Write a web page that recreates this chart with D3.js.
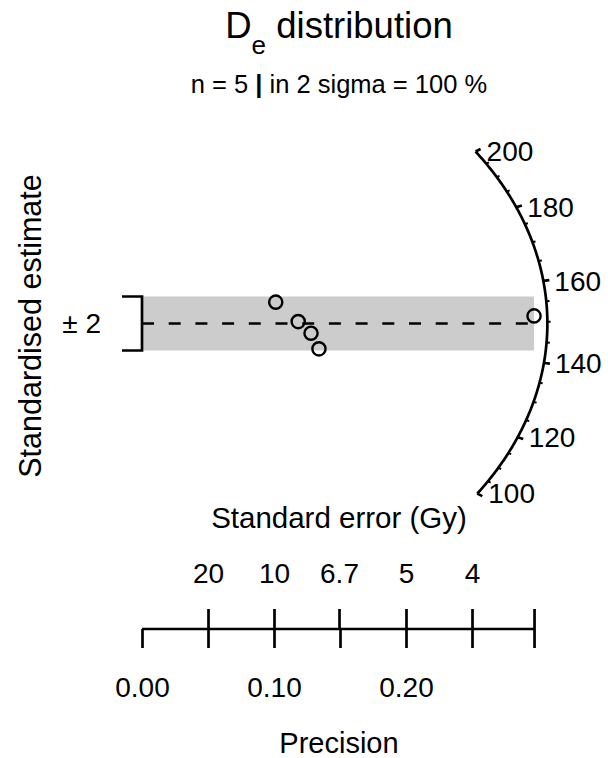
<!DOCTYPE html>
<html><head><meta charset="utf-8">
<script src="https://cdn.jsdelivr.net/npm/d3@7"></script>
<style>body{margin:0;background:#fff;} text{font-family:"Liberation Sans",Arial,sans-serif;fill:#000;}</style>
</head><body>
<svg id="c" width="608" height="758"></svg>
<script>
// ---- data ----
const De = [165.2, 150.8, 144.0, 135.6, 151.5];      // equivalent dose (Gy)
const seDe = [9.87, 8.45, 7.81, 7.46, 3.367];       // standard error (Gy)
const zMajorTicks = [100, 120, 140, 160, 180, 200];
const zMinorTicks = [105,110,115,125,130,135,145,150,155,165,170,175,185,190,195];
const precisionTicks = [0, 0.05, 0.10, 0.15, 0.20, 0.25];
const precisionLabels = ["0.00", "", "0.10", "", "0.20", ""];
const seTickValues = [20, 10, 6.7, 5, 4];
const seTickLabels = ["20", "10", "6.7", "5", "4"];

const svg = d3.select("#c");
const lw = 2.7;

// derived
const prec = seDe.map(s => 1 / s);
const wsum = d3.sum(prec, p => p * p);
const z0 = d3.sum(De, (d, i) => d * prec[i] * prec[i]) / wsum;
const std = De.map((d, i) => (d - z0) / seDe[i]);
const maxP = d3.max(prec);

const x = d3.scaleLinear().domain([0, 0.3]).range([142, 538]);
const y = d3.scaleLinear().domain([-13, 13]).range([499, 148]);

// ±2 band
svg.append("rect").attr("x", x(0)).attr("y", y(2))
  .attr("width", x(maxP) - x(0)).attr("height", y(-2) - y(2)).attr("fill", "#cccccc");

// central line
svg.append("line").attr("x1", x(0)).attr("x2", x(maxP)).attr("y1", y(0)).attr("y2", y(0))
  .attr("stroke", "#000").attr("stroke-width", lw).attr("stroke-dasharray", "12,14.7");

// bracket
svg.append("path").attr("d", `M${x(0)-20},${y(2)}H${x(0)}V${y(-2)}H${x(0)-20}`)
  .attr("fill", "none").attr("stroke", "#000").attr("stroke-width", lw);
svg.append("text").attr("x", 101).attr("y", y(0)).attr("dy", "0.35em").attr("text-anchor", "end")
  .attr("font-size", 28).text("± 2");

// arc
const r = maxP * 1.034, f = 0.0137;
const ex = z => r / Math.sqrt(1 + f * f * (z - z0) * (z - z0));
const ey = z => (z - z0) * ex(z);
const arcZ = d3.range(zMajorTicks[0], zMajorTicks[zMajorTicks.length - 1] + 0.01, 0.5);
svg.append("path").attr("d", d3.line().x(z => x(ex(z))).y(z => y(ey(z)))(arcZ))
  .attr("fill", "none").attr("stroke", "#000").attr("stroke-width", lw);
zMajorTicks.forEach(z => {
  svg.append("line").attr("x1", x(ex(z))).attr("y1", y(ey(z)))
    .attr("x2", x(ex(z) * 1.015)).attr("y2", y(ey(z) * 1.015))
    .attr("stroke", "#000").attr("stroke-width", lw);
  svg.append("text").attr("x", x(ex(z)) + 11).attr("y", y(ey(z))).attr("dy", "0.35em")
    .attr("font-size", 28).text(z);
});
zMinorTicks.forEach(z => {
  svg.append("line").attr("x1", x(ex(z))).attr("y1", y(ey(z)))
    .attr("x2", x(ex(z) * 1.008)).attr("y2", y(ey(z) * 1.008))
    .attr("stroke", "#000").attr("stroke-width", 2);
});

// points
svg.selectAll("circle.pt").data(De).enter().append("circle")
  .attr("cx", (d, i) => x(prec[i])).attr("cy", (d, i) => y(std[i])).attr("r", 6.6)
  .attr("fill", "none").attr("stroke", "#000").attr("stroke-width", 2.4);

// bottom axes
const axY = 629;
svg.append("line").attr("x1", x(0)).attr("x2", x(maxP)).attr("y1", axY).attr("y2", axY)
  .attr("stroke", "#000").attr("stroke-width", lw);
const gB = svg.append("g").attr("transform", `translate(0,${axY})`)
  .call(d3.axisBottom(x).tickValues(precisionTicks.concat([maxP])).tickSize(19).tickSizeOuter(0)
    .tickFormat((d, i) => precisionLabels[i] || ""));
gB.select(".domain").remove();
gB.selectAll(".tick line").attr("stroke-width", lw);
gB.selectAll(".tick text").attr("font-size", 28).attr("font-family", null).attr("y", 68).attr("dy", null);

const gT = svg.append("g").attr("transform", `translate(0,${axY})`)
  .call(d3.axisTop(x).tickValues(seTickValues.map(s => 1 / s).concat([maxP])).tickSize(20).tickSizeOuter(0)
    .tickFormat((d, i) => seTickLabels[i] || ""));
gT.select(".domain").remove();
gT.selectAll(".tick line").attr("stroke-width", lw);
gT.selectAll(".tick text").attr("font-size", 28).attr("font-family", null).attr("y", -46).attr("dy", null);

// titles
const title = svg.append("text").attr("x", 339).attr("y", 38).attr("text-anchor", "middle").attr("font-size", 36.5);
title.append("tspan").text("D");
title.append("tspan").attr("font-size", 26).attr("dy", 16).text("e");
title.append("tspan").attr("dy", -16).text(" distribution");

svg.append("text").attr("x", 339).attr("y", 93).attr("text-anchor", "middle").attr("font-size", 25.5)
  .html('n = 5 <tspan font-weight="bold">|</tspan> in 2 sigma = 100 %');

svg.append("text").attr("x", 339).attr("y", 528).attr("text-anchor", "middle").attr("font-size", 29.5)
  .text("Standard error (Gy)");
svg.append("text").attr("x", 339).attr("y", 753).attr("text-anchor", "middle").attr("font-size", 29)
  .text("Precision");
svg.append("text").attr("transform", "translate(41,326) rotate(-90)").attr("text-anchor", "middle")
  .attr("font-size", 30.5).text("Standardised estimate");
</script>
</body></html>
